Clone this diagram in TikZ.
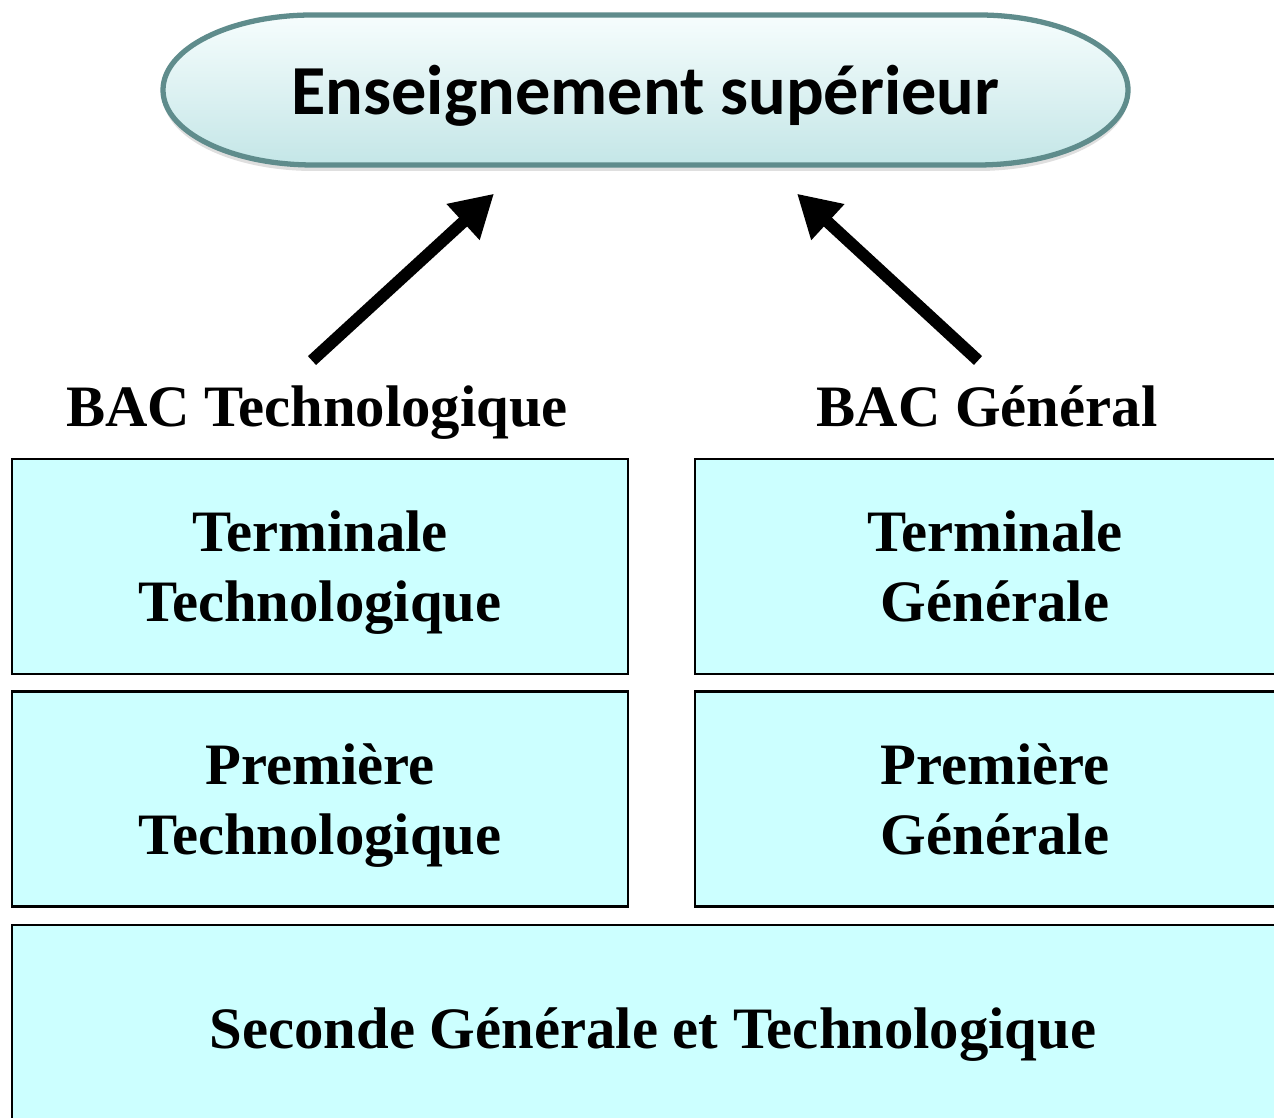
\documentclass[tikz,border=0pt]{standalone}
\usepackage{fontspec}
\setmainfont{Liberation Serif}
\newfontfamily\calibri{Carlito}
\usetikzlibrary{arrows.meta,shadows}
\definecolor{boxcyan}{RGB}{204,255,255}
\definecolor{pilledge}{RGB}{95,140,140}
\definecolor{pilltop}{RGB}{246,253,253}
\definecolor{pillbot}{RGB}{196,230,231}
\tikzset{box/.style= {draw, fill=boxcyan, line width=0.8pt, minimum width=6.16cm, minimum height=2.15cm, align=center, text depth=0pt, font=\fontsize{16.7}{19.9}\selectfont\bfseries}}
\tikzset{bac/.style= {anchor=base, inner sep=0pt, font=\fontsize{16.7}{19.9}\selectfont\bfseries}}
\tikzset{up/.style= {-{Triangle[length=0.42cm,width=0.46cm]}, line width=0.12cm}}

\begin{document}
\begin{tikzpicture}
        \clip(0,0) rectangle (12.74,11.18);

        \draw[line width=1.5pt, draw=pilledge, top color=pilltop, bottom color=pillbot,
              drop shadow={shadow xshift=0cm, shadow yshift=-0.06cm, opacity=0.25}]
            (3.13,11.03) -- (9.78,11.03) arc[start angle=90, end angle=-90, x radius=1.5, y radius=0.75]
            -- (3.13,9.53) arc[start angle=270, end angle=90, x radius=1.5, y radius=0.75] -- cycle;
        \node[minimum width=9.65cm, minimum height=1.5cm, text depth=0pt, font=\calibri\fontsize{20}{24}\selectfont\bfseries](top)at(6.455,10.28){Enseignement supérieur};

        \node[bac](bacT)at(3.17,6.91){BAC Technologique};
        \node[bac](bacG)at(9.87,6.91){BAC Général};

        \draw[up]([xshift=-0.05cm, yshift=0.25cm]bacT.north) -- ([xshift=-1.515cm, yshift=-0.28cm]top.south);
        \draw[up]([xshift=-0.09cm, yshift=0.25cm]bacG.north) -- ([xshift=1.515cm, yshift=-0.28cm]top.south);

        \node[box](termT)at(3.20,5.515){Terminale\\Technologique};
        \node[box, minimum width=6.0cm](termG)at(9.95,5.515){Terminale\\Générale};
        \node[box](premT)at(3.20,3.19){Première\\Technologique};
        \node[box, minimum width=6.0cm](premG)at(9.95,3.19){Première\\Générale};
        \node[box, minimum width=12.82cm, minimum height=2.06cm](sec)at(6.53,0.90){Seconde Générale et Technologique};
    \end{tikzpicture}
\end{document}
